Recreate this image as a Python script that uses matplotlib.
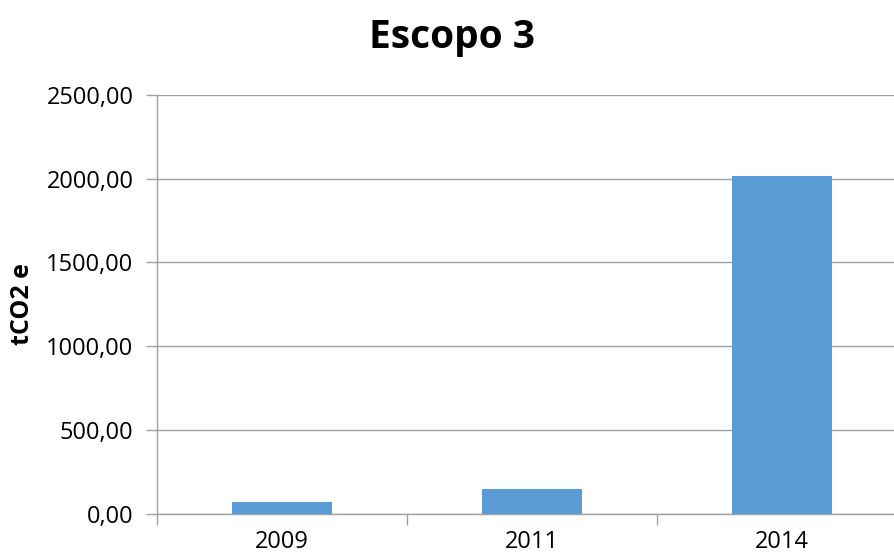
import matplotlib.pyplot as plt
import numpy as np

# emissões de escopo 3 por ano
anos = ['2009', '2011', '2014']
emissoes = [68.0, 149.0, 2015.0]
yticks = [0, 500, 1000, 1500, 2000, 2500]

plt.rcParams['font.family'] = ['Open Sans', 'DejaVu Sans']

fig = plt.figure(figsize=(8.94, 5.58), dpi=100)
ax = fig.add_axes([0.1756, 0.0794, 0.8244, 0.7503])

x = np.arange(len(anos))
ax.bar(x, emissoes, width=0.4, color='#5B9BD5', zorder=3)

ax.set_xlim(-0.5, 2.448)
ax.set_ylim(0, 2500)
ax.set_yticks(yticks)
ax.set_yticklabels([f'{v:.2f}'.replace('.', ',') for v in yticks], fontsize=17)

# rótulos centrados nas categorias, marcas entre categorias
ax.set_xticks(x)
ax.set_xticklabels(anos, fontsize=17)
ax.tick_params(axis='x', which='major', length=0, pad=12)
ax.set_xticks([-0.5, 0.5, 1.5], minor=True)
ax.tick_params(axis='x', which='minor', length=8, width=1, color='#a0a0a0')
ax.tick_params(axis='y', length=8, width=1, color='#a0a0a0', pad=9)

ax.grid(axis='y', color='#a0a0a0', linewidth=1, zorder=0)
for s in ['top', 'right']:
    ax.spines[s].set_visible(False)
for s in ['left', 'bottom']:
    ax.spines[s].set_color('#a0a0a0')
    ax.spines[s].set_linewidth(1)

ax.set_ylabel('tCO2 e', fontsize=18, fontweight='bold', labelpad=8)
fig.suptitle('Escopo 3', fontsize=28, fontweight='bold', x=0.506, y=0.968)

fig.savefig('out.png', dpi=100)
